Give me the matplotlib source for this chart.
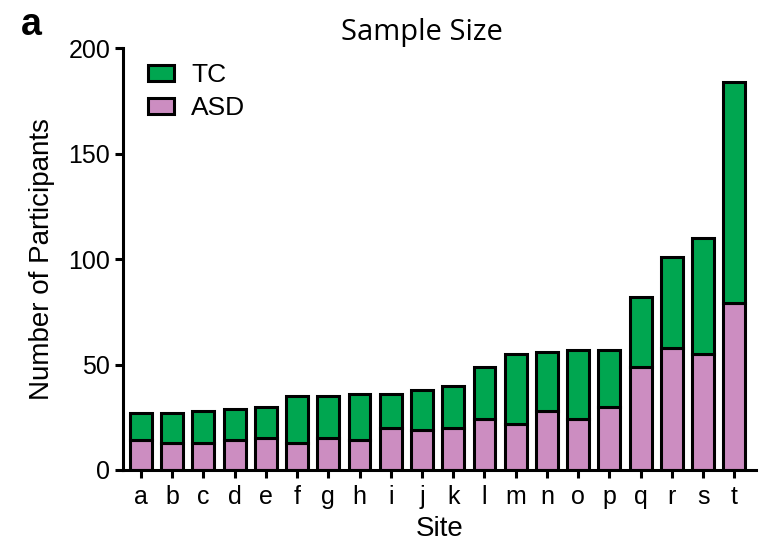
import matplotlib
matplotlib.use("Agg")
import matplotlib.pyplot as plt
import numpy as np

plt.rcParams['font.family'] = ['Liberation Sans', 'DejaVu Sans']

sites = list("abcdefghijklmnopqrst")
asd = [14, 13, 13, 14, 15, 13, 15, 14, 20, 19, 20, 24, 22, 28, 24, 30, 49, 58, 55, 79]
total = [27, 27, 28, 29, 30, 35, 35, 36, 36, 38, 40, 49, 55, 56, 57, 57, 82, 101, 110, 184]
tc = [t - a for t, a in zip(total, asd)]

GREEN = '#00a650'
PINK = '#cc8dc1'

fig = plt.figure(figsize=(7.63, 5.5), dpi=100)
ax = fig.add_axes([0.161, 0.1455, 0.83, 0.767])

x = np.arange(len(sites))
ax.bar(x, asd, width=0.7, color=PINK, edgecolor='black', linewidth=2.2, label='ASD')
ax.bar(x, tc, bottom=asd, width=0.7, color=GREEN, edgecolor='black', linewidth=2.2, label='TC')

ax.set_xlim(-0.58, 19.7)
ax.set_ylim(0, 200)
ax.set_yticks([0, 50, 100, 150, 200])
ax.set_xticks(x)
ax.set_xticklabels(sites)

for s in ['top', 'right']:
    ax.spines[s].set_visible(False)
for s in ['left', 'bottom']:
    ax.spines[s].set_linewidth(2.2)
ax.tick_params(axis='both', direction='out', length=6, width=2.2, labelsize=18)
ax.tick_params(axis='x', pad=5)
ax.tick_params(axis='y', pad=3)

ax.set_ylabel('Number of Participants', fontsize=20, labelpad=10)
ax.set_xlabel('Site', fontsize=20, labelpad=5)
ax.set_title('Sample Size', fontsize=21, family=['Open Sans', 'DejaVu Sans'], x=0.472, pad=6)
fig.text(0.028, 0.936, 'a', fontsize=27, fontweight='bold')

h, l = ax.get_legend_handles_labels()
ax.legend(h[::-1], l[::-1], loc='upper left', bbox_to_anchor=(0.039, 0.965), frameon=False,
          borderpad=0, borderaxespad=0, fontsize=19, handlelength=1.0, handleheight=0.55,
          handletextpad=0.65, labelspacing=0.35)

fig.savefig('out.png', dpi=100)
